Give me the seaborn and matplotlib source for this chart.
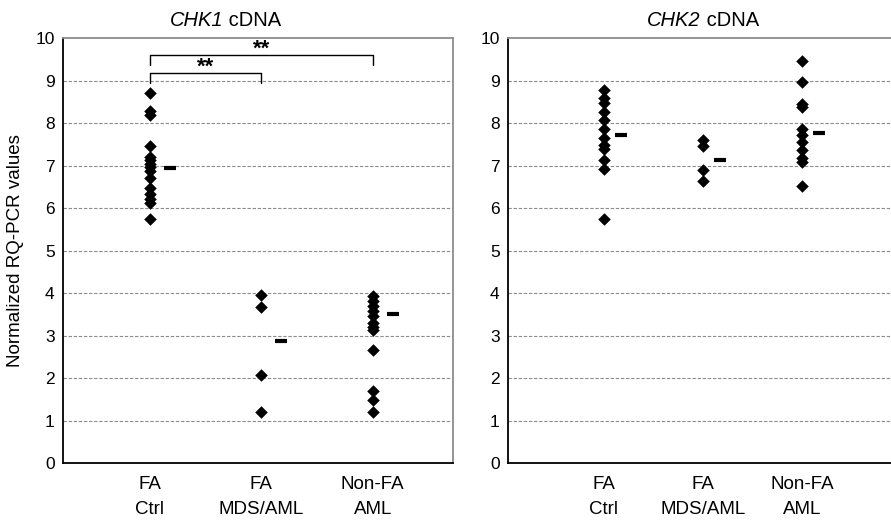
import pandas as pd
import numpy as np
import matplotlib
matplotlib.use("Agg")
import matplotlib.pyplot as plt
import seaborn as sns

# groups on the x axis
groups = ["FA\nCtrl", "FA\nMDS/AML", "Non-FA\nAML"]

# CHK1 cDNA values
chk1_fa_ctrl = [8.7, 8.28, 8.2, 7.47, 7.2, 7.12, 7.03, 6.97, 6.88, 6.71, 6.47, 6.34, 6.22, 6.12, 5.73]
chk1_fa_mds = [3.95, 3.68, 2.08, 1.2]
chk1_nonfa = [3.93, 3.82, 3.7, 3.58, 3.45, 3.3, 3.2, 3.12, 2.67, 1.69, 1.49, 1.2]
chk1_means = [6.95, 2.87, 3.5]

# CHK2 cDNA values
chk2_fa_ctrl = [8.78, 8.58, 8.46, 8.27, 8.07, 7.86, 7.65, 7.48, 7.4, 7.12, 6.91, 5.75]
chk2_fa_mds = [7.6, 7.46, 6.9, 6.63]
chk2_nonfa = [9.45, 8.97, 8.44, 8.38, 7.85, 7.72, 7.55, 7.36, 7.18, 7.08, 6.52]
chk2_means = [7.72, 7.13, 7.77]

# significance brackets on CHK1: (from group, to group, height, label)
chk1_brackets = [(0, 1, 9.17, "**"), (0, 2, 9.6, "**")]

sns.set_style("white")
plt.rcParams["font.family"] = ["Liberation Sans", "DejaVu Sans"]
for key in ["text.color", "axes.labelcolor", "xtick.color", "ytick.color"]:
    plt.rcParams[key] = "black"


def long_form(values_per_group):
    rows = []
    for g, vals in zip(groups, values_per_group):
        for v in vals:
            rows.append({"group": g, "value": v})
    return pd.DataFrame(rows)


def draw_panel(ax, df, means, gene, xlim, mean_offset, title_x):
    for y in range(1, 10):
        ax.axhline(y, color="#8c8c8c", lw=0.8, ls=(0, (3, 1.6)), zorder=0)
    sns.stripplot(data=df, x="group", y="value", order=groups, jitter=False,
                  marker="D", color="black", size=6.4, linewidth=0, ax=ax, zorder=3)
    ax.plot(np.arange(len(groups)) + mean_offset, means, ls="none", marker="_",
            color="black", ms=9, mew=3, zorder=3)
    ax.set_ylim(0, 10)
    ax.set_xlim(*xlim)
    ax.set_yticks(range(0, 11))
    ax.set_xlabel("")
    ax.set_ylabel("")
    ax.tick_params(axis="both", length=0, pad=6)
    ax.tick_params(axis="y", labelsize=12.5)
    ax.tick_params(axis="x", labelsize=13.5, pad=9)
    for lbl in ax.get_xticklabels():
        lbl.set_linespacing(1.65)
    # title: gene name in italic, then plain " cDNA"
    t = ax.annotate(gene, xy=(title_x, 1.0), xycoords=("data", "axes fraction"),
                    xytext=(0, 6), textcoords="offset points",
                    ha="right", va="bottom", fontsize=14.5, fontstyle="italic")
    ax.annotate(" cDNA", xy=(1, 0), xycoords=t, ha="left", va="bottom", fontsize=14.5)
    for side in ["left", "bottom"]:
        ax.spines[side].set_color("black")
        ax.spines[side].set_linewidth(1.3)
    for side in ["top", "right"]:
        ax.spines[side].set_color("#8c8c8c")
        ax.spines[side].set_linewidth(1.3)


fig = plt.figure(figsize=(8.91, 5.21), dpi=100)
ax1 = fig.add_axes([0.0707, 0.1113, 0.4377, 0.8157])
ax2 = fig.add_axes([0.5701, 0.1113, 0.4377, 0.8157])

draw_panel(ax1, long_form([chk1_fa_ctrl, chk1_fa_mds, chk1_nonfa]), chk1_means,
           "CHK1", (-0.78, 2.72), 0.18, 0.66)
draw_panel(ax2, long_form([chk2_fa_ctrl, chk2_fa_mds, chk2_nonfa]), chk2_means,
           "CHK2", (-0.97, 2.97), 0.17, 0.98)

# brackets
for a, b, h, label in chk1_brackets:
    ax1.plot([a, a, b, b], [h - 0.23, h, h, h - 0.23], color="black", lw=1.0, zorder=4)
    ax1.text((a + b) / 2, h + 0.14, label, ha="center", va="center",
             fontsize=16, fontweight="bold")

ax1.set_ylabel("Normalized RQ-PCR values", fontsize=13.5, labelpad=8)

fig.savefig("out.png", dpi=100)
